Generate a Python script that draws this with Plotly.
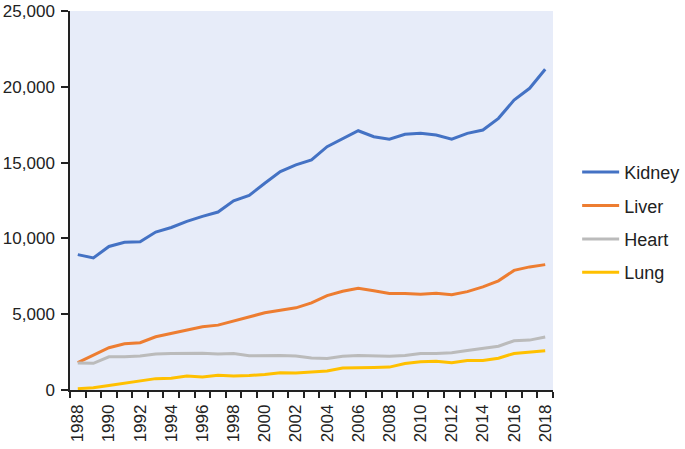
import plotly.graph_objects as go

years = list(range(1988, 2019))
kidney = [8930, 8710, 9470, 9740, 9780, 10420, 10720, 11120, 11450, 11740, 12480, 12830,
          13640, 14410, 14850, 15180, 16050, 16560, 17100, 16710, 16540, 16870, 16930, 16820,
          16540, 16930, 17150, 17920, 19120, 19900, 21160]
liver = [1800, 2280, 2790, 3050, 3120, 3510, 3730, 3990, 4170, 4280, 4560, 4830,
         5090, 5260, 5420, 5750, 6230, 6510, 6710, 6540, 6360, 6360, 6320, 6380,
         6280, 6490, 6800, 7200, 7890, 8120, 8270]
heart = [1780, 1760, 2190, 2190, 2240, 2370, 2410, 2430, 2430, 2370, 2410, 2260,
         2280, 2280, 2240, 2110, 2080, 2220, 2280, 2240, 2220, 2280, 2410, 2410,
         2460, 2610, 2740, 2890, 3250, 3290, 3490]
lung = [90, 150, 290, 460, 620, 750, 770, 920, 860, 980, 920, 950,
        1030, 1140, 1120, 1180, 1250, 1450, 1450, 1490, 1510, 1750, 1860, 1890,
        1800, 1950, 1950, 2100, 2410, 2500, 2590]

series = [("Kidney", kidney, "#4472C4"), ("Liver", liver, "#ED7D31"),
          ("Heart", heart, "#BBBBBB"), ("Lung", lung, "#FFC000")]

fig = go.Figure()
for name, vals, col in series:
    fig.add_trace(go.Scatter(x=years, y=vals, mode="lines", name=name, legendgroup=name,
                             line=dict(color=col, width=3)))

font = "Liberation Sans, Arial, sans-serif"
fig.update_layout(
    width=685, height=449,
    margin=dict(l=70, r=132, t=11, b=59, autoexpand=False),
    plot_bgcolor="#E7ECF9", paper_bgcolor="white",
    font=dict(family=font, size=17, color="#222222"),
    showlegend=True,
    legend=dict(x=1.05, y=0.623, xanchor="left", yanchor="top", tracegroupgap=7,
                itemwidth=37,
                font=dict(size=18, color="#222222"), bgcolor="rgba(0,0,0,0)"),
    xaxis=dict(range=[1987.5, 2018.5], tickmode="array", tickvals=years[::2],
               ticktext=[str(y) for y in years[::2]], tickangle=-90, ticks="",
               ticklabelstandoff=6,
               showgrid=False, zeroline=False, showline=True, linecolor="#222222",
               linewidth=1.5, automargin=False,
               minor=dict(tick0=1987.5, dtick=1, ticks="outside", ticklen=6,
                          tickcolor="#222222", tickwidth=1.5, showgrid=False)),
    yaxis=dict(range=[0, 25000], dtick=5000, tickformat=",", ticks="outside",
               ticklen=7, tickcolor="#222222", tickwidth=1.5, showgrid=False,
               ticklabelstandoff=3, ticklabeloverflow="allow",
               zeroline=False, showline=True, linecolor="#222222", linewidth=1.5,
               automargin=False),
)
fig.write_html("out.html", config={"displayModeBar": False},
               post_script="document.body.style.margin='0';")
